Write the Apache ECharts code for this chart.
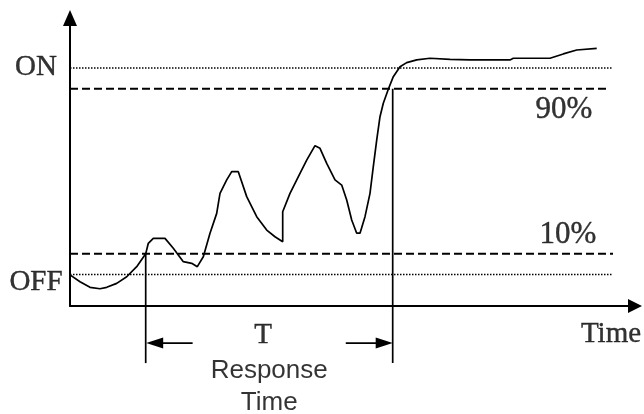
<!DOCTYPE html>
<html><head><meta charset="utf-8">
<script src="https://cdn.jsdelivr.net/npm/echarts@6/dist/echarts.min.js"></script>
<style>html,body{margin:0;padding:0;background:#fff}#c{width:644px;height:414px}</style>
</head><body><div id="c"></div>
<script>
// signal curve (time in arbitrary units, level in % where OFF = 0, ON = 100)
const times  = [0, 10, 20, 30, 36.7, 46.7, 56.7, 66.7, 75.7, 78.3, 83.3, 95, 103.3, 113.3, 121.7, 127.3, 133.3, 140, 146.7, 150, 156.7, 161.7, 168.3, 176.7, 186.7, 196.7, 205, 212.7, 212.7, 220, 230, 236.7, 245, 250, 256.7, 265, 271.7, 276.7, 281.7, 286.7, 290, 295, 300, 303.3, 306.7, 310, 313.3, 318.3, 323.3, 330, 336.7, 346.7, 360, 380, 400, 440, 443.3, 480, 493.3, 506.7, 526.7];
const signal = [-0.2, -3.5, -6.2, -6.9, -6.2, -4.3, -1.1, 3.8, 10, 15.1, 17.5, 17.5, 12.7, 6.2, 5.4, 3.8, 8.6, 20.0, 29.6, 39.3, 45.8, 49.8, 49.8, 37.7, 28.0, 21.5, 18.3, 15.9, 30.4, 39.3, 49.0, 55.4, 62.4, 61.1, 53.8, 45.8, 43.3, 36.1, 26.4, 20.0, 20.0, 28.0, 39.3, 52.2, 65.1, 76.4, 82.9, 89.7, 95.8, 100.6, 102.6, 103.9, 104.7, 104.2, 103.9, 103.9, 104.7, 104.7, 106.8, 108.7, 109.5];
const levelLabels = ['ON', '90%', '10%', 'OFF'];
const levelValues = [100, 90, 10, 0];
const levelEnds   = [543, 540, 543, 543];
const responseStart = 75.7;   // 10% crossing
const responseEnd   = 322.7;  // 90% crossing
const axisTitle = 'Time';
const periodLabel = 'T';
const responseLabel = 'Response\nTime';

const X_MIN = 0, X_MAX = 565, Y_MIN = -15.25, Y_MAX = 124.2;
const MARK_BOTTOM = -42.9, ARROW_LEVEL = -33.2;

const serif = '"Liberation Serif", "DejaVu Serif", serif';
const sans = '"Liberation Sans", Arial, sans-serif';

const series = [];
series.push({
  type: 'line', name: 'signal', data: times.map((t, i) => [t, signal[i]]),
  symbol: 'none', clip: false, z: 5,
  lineStyle: { color: '#000', width: 1.7 }
});
levelLabels.forEach((name, i) => {
  const dotted = (name === 'ON' || name === 'OFF');
  series.push({
    type: 'line', name: name, data: [[0, levelValues[i]], [levelEnds[i], levelValues[i]]],
    symbol: 'none', clip: false,
    lineStyle: { color: '#000', width: dotted ? 1.5 : 2, type: dotted ? [1.5, 1.5] : [8, 4] }
  });
});
[responseStart, responseEnd].forEach((t, i) => {
  series.push({
    type: 'line', name: 'mark' + i, data: [[t, i === 0 ? 10 : 90], [t, MARK_BOTTOM]],
    symbol: 'none', clip: false, lineStyle: { color: '#000', width: 1.7 }
  });
});
// dimension arrows
const span = responseEnd - responseStart;
series.push({
  type: 'line', name: 'arrowL', clip: false,
  data: [{ value: [responseStart + 9, ARROW_LEVEL], symbol: 'triangle', symbolRotate: 90 },
         { value: [responseStart + span * 0.19, ARROW_LEVEL], symbol: 'none' }],
  symbolSize: [11, 17], itemStyle: { color: '#000' }, lineStyle: { color: '#000', width: 1.7 }
});
series.push({
  type: 'line', name: 'arrowR', clip: false,
  data: [{ value: [responseEnd - span * 0.19, ARROW_LEVEL], symbol: 'none' },
         { value: [responseEnd - 8.5, ARROW_LEVEL], symbol: 'triangle', symbolRotate: -90 }],
  symbolSize: [11, 17], itemStyle: { color: '#000' }, lineStyle: { color: '#000', width: 1.7 }
});
// text labels
const lbl = (text, pt, offset, font, size, extra) => ({
  value: pt, name: text,
  label: Object.assign({ show: true, position: 'inside', offset: offset, formatter: text,
    fontFamily: font, fontSize: size, color: '#000', textBorderColor: '#000', textBorderWidth: 0.4 }, extra || {})
});
const mid = (responseStart + responseEnd) / 2;
series.push({
  type: 'scatter', name: 'labels', clip: false, symbolSize: 1, silent: true,
  itemStyle: { color: 'transparent' },
  data: [
    lbl(levelLabels[0], [0, levelValues[0]], [-34, -1], serif, 29),
    lbl(levelLabels[1], [levelEnds[1], levelValues[1]], [-46, 21], serif, 31),
    lbl(levelLabels[2], [levelEnds[2], levelValues[2]], [-45, -19], serif, 31),
    lbl(levelLabels[3], [0, levelValues[3]], [-34, 8], serif, 29),
    lbl(axisTitle, [X_MAX, Y_MIN], [-24, 28], serif, 29),
    lbl(periodLabel, [mid, ARROW_LEVEL], [-6, -8], serif, 29),
    lbl(responseLabel, [mid, ARROW_LEVEL], [0, 44], sans, 26, { lineHeight: 32, align: 'center', textBorderWidth: 0 })
  ]
});

const chart = echarts.init(document.getElementById('c'), null, { renderer: 'canvas' });
chart.setOption({
  animation: false,
  backgroundColor: '#fff',
  grid: { left: 70, right: 9, top: 18, bottom: 108 },
  xAxis: {
    type: 'value', min: X_MIN, max: X_MAX,
    axisLine: { show: true, onZero: false, symbol: ['none', 'triangle'], symbolSize: [14, 14],
      lineStyle: { color: '#000', width: 2 } },
    axisTick: { show: false }, axisLabel: { show: false }, splitLine: { show: false }
  },
  yAxis: {
    type: 'value', min: Y_MIN, max: Y_MAX,
    axisLine: { show: true, onZero: false, symbol: ['none', 'triangle'], symbolSize: [14, 16],
      lineStyle: { color: '#000', width: 2 } },
    axisTick: { show: false }, axisLabel: { show: false }, splitLine: { show: false }
  },
  series: series
});
</script>
</body></html>
